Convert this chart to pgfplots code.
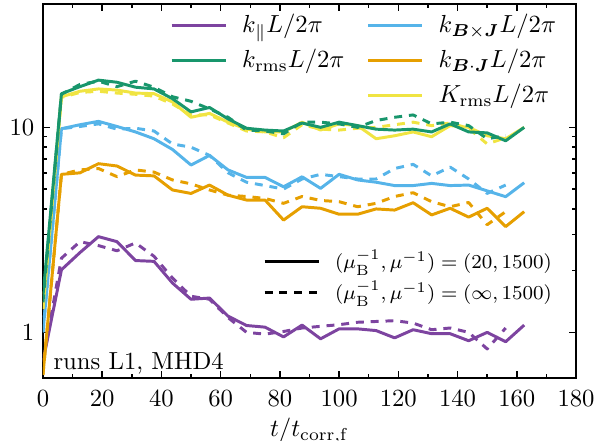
\documentclass[border=0pt]{standalone}
\usepackage{amsmath}
\usepackage{pgfplots}
\usepackage{pgfplotstable}
\pgfplotsset{compat=1.18}
\definecolor{cpurple}{RGB}{125,68,160}
\definecolor{cgreen}{RGB}{24,150,108}
\definecolor{cblue}{RGB}{86,180,233}
\definecolor{corange}{RGB}{230,159,0}
\definecolor{cyellow}{RGB}{240,228,66}
\pgfplotstableread{
t kpar krms kbxj kbj Krms
0 0.72 1.5 1.0 0.62 1.3
6.25 2.02 14.6 9.85 5.9 14.1
12.5 2.45 15.8 10.3 6.0 15.0
18.75 2.93 17.0 10.7 6.65 15.4
25 2.77 16.6 10.1 6.48 15.2
31.25 2.24 15.7 9.5 5.85 14.7
37.5 2.22 15.4 8.8 5.8 14.6
43.75 1.74 13.8 7.8 4.95 13.3
50 1.45 11.9 6.55 4.76 11.2
56.25 1.47 12.5 7.3 5.23 11.7
62.5 1.20 11.0 6.2 4.67 10.6
68.75 1.08 9.9 5.7 4.42 9.8
75 1.06 9.7 5.7 4.42 9.5
81.25 0.95 9.6 5.13 3.53 9.5
87.5 1.085 10.5 5.74 4.1 10.6
93.75 0.93 10.0 5.04 4.03 9.7
100 1.04 10.6 5.9 3.77 10.4
106.25 1.04 10.2 5.54 3.77 10.2
112.5 1.02 9.8 5.4 4.0 8.8
118.75 0.94 9.7 5.2 3.95 9.1
125 1.03 9.8 5.2 4.29 9.5
131.25 0.985 9.5 5.33 3.74 9.0
137.5 0.985 10.4 5.2 4.03 10.2
143.75 0.91 9.5 5.23 3.65 10.0
150 1.0 9.4 4.9 4.03 9.1
156.25 0.90 8.6 4.59 3.28 8.8
162.5 1.085 10.0 5.37 3.88 10.0
}\runA
\pgfplotstableread{
t kpar krms kbxj kbj Krms
0 0.72 1.4 1.0 0.62 1.3
6.25 2.3 14.5 9.85 5.9 14.0
12.5 2.77 16.2 10.1 6.2 14.8
18.75 2.65 16.8 10.4 6.3 15.0
25 2.5 15.8 9.8 5.75 14.7
31.25 2.73 16.8 9.9 6.2 14.5
37.5 2.35 15.7 9.6 6.05 14.2
43.75 1.84 14.1 8.3 5.54 13.0
50 1.50 13.4 8.0 5.3 11.5
56.25 1.45 12.3 7.3 4.95 11.5
62.5 1.18 11.2 6.0 4.67 10.5
68.75 1.0 9.7 5.4 4.6 9.6
75 0.98 9.6 5.2 4.5 9.5
81.25 1.01 9.3 5.0 4.26 8.9
87.5 1.05 10.6 5.6 4.6 10.3
93.75 1.07 10.6 5.9 4.4 9.8
100 1.09 10.4 5.75 4.34 9.7
106.25 1.12 10.0 5.6 4.1 9.9
112.5 1.13 10.8 5.6 4.26 10.0
118.75 1.14 11.2 6.3 4.6 10.3
125 1.11 11.5 6.6 4.8 10.6
131.25 1.03 10.4 5.8 4.34 10.2
137.5 1.05 10.6 6.4 4.1 10.5
143.75 1.0 10.2 5.6 4.3 9.9
150 0.83 8.8 4.76 3.35 8.3
156.25 1.05 9.1 5.23 3.88 8.9
}\runB
\begin{document}
\begin{tikzpicture}
\pgfplotsset{
  common/.style={
    scale only axis, width=216pt, height=151.5pt,
    xmin=0, xmax=180, ymin=0.6, ymax=40,
  },
  lgd/.style={
    legend image code/.code={\draw[##1, line width=1.2pt] (0pt,0pt) -- (22pt,0pt);},
    legend cell align=left,
  },
}
\begin{axis}[common, lgd,
  ymode=log,
  xtick={0,20,...,180}, minor x tick num=1,
  ytick={1,10}, yticklabels={$1$,$10$},
  tick pos=both, tick align=inside,
  major tick length=2.8pt, minor tick length=1.6pt,
  every tick/.style={black, line width=0.6pt},
  axis line style={line width=0.8pt},
  xticklabel style={yshift=-1.5pt},
  xlabel={$t/t_{\mathrm{corr,f}}$},
  xlabel style={yshift=2pt},
  legend columns=2,
  legend style={draw=none, fill=none, at={(rel axis cs:0.968,0.98)}, anchor=north east,
    inner sep=0pt, row sep=3.2pt,
    nodes={inner sep=1pt},
    /tikz/every odd column/.append style={column sep=5pt},
    /tikz/every even column/.append style={column sep=8pt}},
  every axis plot/.append style={line width=1.2pt, line join=round},
]
\coordinate (LL) at (rel axis cs:0,0);
\coordinate (UR) at (rel axis cs:1,1);
\addlegendimage{cpurple}\addlegendentry{$k_{\parallel}L/2\pi$}
\addlegendimage{cblue}\addlegendentry{$k_{\boldsymbol{B}\times\boldsymbol{J}}L/2\pi$}
\addlegendimage{cgreen}\addlegendentry{$k_{\mathrm{rms}}L/2\pi$}
\addlegendimage{corange}\addlegendentry{$k_{\boldsymbol{B}\cdot\boldsymbol{J}}L/2\pi$}
\addlegendimage{empty legend}\addlegendentry{}
\addlegendimage{cyellow}\addlegendentry{$K_{\mathrm{rms}}L/2\pi$}
\addplot[cpurple, forget plot] table[x=t,y=kpar] {\runA};
\addplot[cpurple, dash pattern=on 3.2pt off 2.8pt, forget plot] table[x=t,y=kpar] {\runB};
\addplot[corange, forget plot] table[x=t,y=kbj] {\runA};
\addplot[corange, dash pattern=on 3.2pt off 2.8pt, forget plot] table[x=t,y=kbj] {\runB};
\addplot[cblue, forget plot] table[x=t,y=kbxj] {\runA};
\addplot[cblue, dash pattern=on 3.2pt off 2.8pt, forget plot] table[x=t,y=kbxj] {\runB};
\addplot[cyellow, forget plot] table[x=t,y=Krms] {\runA};
\addplot[cyellow, dash pattern=on 3.2pt off 2.8pt, forget plot] table[x=t,y=Krms] {\runB};
\addplot[cgreen, forget plot] table[x=t,y=krms] {\runA};
\addplot[cgreen, dash pattern=on 3.2pt off 2.8pt, forget plot] table[x=t,y=krms] {\runB};
\node[anchor=base west, inner sep=0pt] at (rel axis cs:0.019,0.022) {runs L1, MHD4};
\end{axis}
\begin{axis}[common, lgd, hide axis,
  legend style={draw=none, fill=none, at={(rel axis cs:0.96,0.192)}, anchor=south east,
    inner sep=0pt, row sep=1.6pt, font=\footnotesize,
    nodes={inner sep=1pt},
    /tikz/every odd column/.append style={column sep=5pt}},
]
\addlegendimage{black}\addlegendentry{$(\mu_{\mathrm{B}}^{-1},\mu^{-1})=(20,1500)$}
\addlegendimage{black, dash pattern=on 3.2pt off 2.8pt}\addlegendentry{$(\mu_{\mathrm{B}}^{-1},\mu^{-1})=(\infty,1500)$}
\end{axis}
\pgfresetboundingbox
\path[use as bounding box] ([shift={(-17.4pt,-25.5pt)}]LL) rectangle ([shift={(8.1pt,1.6pt)}]UR);
\end{tikzpicture}
\end{document}
